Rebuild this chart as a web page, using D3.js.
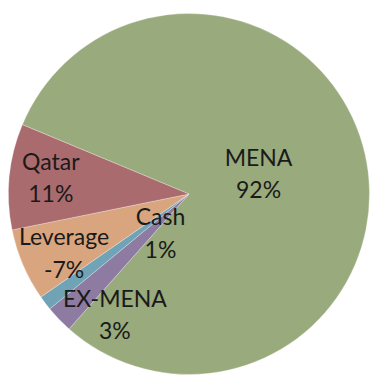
<!DOCTYPE html>
<html>
<head>
<meta charset="utf-8">
<script src="https://cdn.jsdelivr.net/npm/d3@7"></script>
<style>
  html, body { margin: 0; padding: 0; background: #fff; }
  svg { display: block; }
</style>
</head>
<body>
<div id="chart"></div>
<script>
// slice order as drawn clockwise, starting from the MENA slice
const categories = ["MENA", "EX-MENA", "Cash", "Leverage", "Qatar"];
const values = [91.6, 2.8, 1.49, -7.4, 10.8];
const valueLabels = ["92%", "3%", "1%", "-7%", "11%"];
const colors = ["#99aa7c", "#8e7ba1", "#6fa3b5", "#d9a57f", "#a96b6e"];

const width = 374, height = 376;
const cx = 189, cy = 194, radius = 180.5;
const startDeg = -67.4;

const data = categories.map((c, i) => ({ name: c, value: values[i], label: valueLabels[i], color: colors[i] }));

const pie = d3.pie()
    .sort(null)
    .value(d => Math.abs(d.value))
    .startAngle(startDeg * Math.PI / 180)
    .endAngle((startDeg + 360) * Math.PI / 180);

const arc = d3.arc().innerRadius(0).outerRadius(radius);

const svg = d3.select("#chart")
    .append("svg")
    .attr("width", width)
    .attr("height", height);

const g = svg.append("g")
    .attr("transform", `translate(${cx}, ${cy})`);

const arcs = pie(data);

g.selectAll("path.slice")
    .data(arcs)
    .join("path")
    .attr("class", "slice")
    .attr("d", arc)
    .attr("fill", d => d.data.color)
    .attr("stroke", "rgba(255,255,255,0.35)")
    .attr("stroke-width", 0.8);

// label placement: angle (deg, clockwise from 12 o'clock) and distance from centre
const labelPlace = {
    "MENA": [73.6, 72.5],
    "EX-MENA": [211.5, 141.8],
    "Cash": [216, 48.5],
    "Leverage": [244.7, 138.2],
    "Qatar": [276.8, 139.2]
};

const labels = g.selectAll("text.lbl")
    .data(arcs)
    .join("text")
    .attr("class", "lbl")
    .attr("text-anchor", "middle")
    .attr("font-family", "Lato, 'Open Sans', sans-serif")
    .attr("font-size", 23)
    .attr("fill", "#1a1a1a")
    .attr("transform", d => {
        const [a, r] = labelPlace[d.data.name];
        const t = a * Math.PI / 180;
        return `translate(${r * Math.sin(t)}, ${-r * Math.cos(t)})`;
    });

labels.append("tspan")
    .attr("x", 0)
    .attr("y", -8)
    .text(d => d.data.name);

labels.append("tspan")
    .attr("x", 0)
    .attr("y", 24.5)
    .text(d => d.data.label);
</script>
</body>
</html>
